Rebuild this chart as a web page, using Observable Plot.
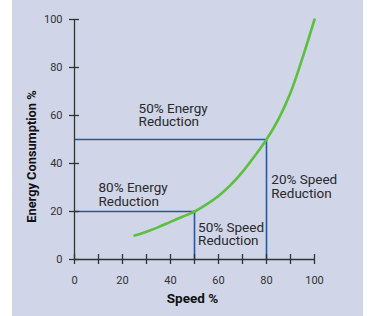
<!DOCTYPE html>
<html><head><meta charset="utf-8">
<script src="https://cdn.jsdelivr.net/npm/d3@7"></script>
<script src="https://cdn.jsdelivr.net/npm/@observablehq/plot@0.6"></script>
<style>
html,body{margin:0;padding:0;background:#fff;}
#wrap{position:relative;width:372px;height:316px;}
#panel{position:absolute;left:12px;top:0;width:351px;height:316px;background:#d0d5e8;}
#chart{position:absolute;left:0;top:0;}
#chart svg{background:transparent;}
</style></head>
<body><div id="wrap"><div id="panel"></div><div id="chart"></div></div>
<script>
const speed =  [25, 30, 35, 40, 45, 50, 55, 60, 65, 70, 75, 80, 85, 90, 95, 100];
const energy = [10, 11.6, 13.5, 15.7, 17.8, 20, 23, 26.5, 31, 36.5, 43, 50, 58.5, 69.5, 84, 100];
const xTicks = [0, 10, 20, 30, 40, 50, 60, 70, 80, 90, 100];
const xLabels = [0, 20, 40, 60, 80, 100];
const yTicks = [0, 20, 40, 60, 80, 100];
const guides = [
  {x1: 0, y1: 50, x2: 80, y2: 50},
  {x1: 80, y1: 0, x2: 80, y2: 50},
  {x1: 0, y1: 20, x2: 50, y2: 20},
  {x1: 50, y1: 0, x2: 50, y2: 20}
];
const notes = [
  {x: 26.7, y: 65.3, text: "50% Energy\nReduction"},
  {x: 10, y: 32.2, text: "80% Energy\nReduction"},
  {x: 51.5, y: 15.7, text: "50% Speed\nReduction"},
  {x: 82, y: 35.6, text: "20% Speed\nReduction"}
];
const curve = speed.map((s, i) => ({s, e: energy[i]}));
const ink = "#333";
const plot = Plot.plot({
  width: 372, height: 316,
  marginLeft: 74, marginRight: 58, marginTop: 19, marginBottom: 57,
  style: {fontFamily: "Roboto, sans-serif", background: "transparent", color: ink},
  x: {domain: [0, 100]},
  y: {domain: [0, 100]},
  marks: [
    Plot.axisX(xLabels, {tickSize: 0, tickPadding: 17, fontSize: 11, label: null}),
    Plot.axisY(yTicks, {tickSize: 0, tickPadding: 12, fontSize: 11, label: null}),
    Plot.link(guides, {x1: "x1", y1: "y1", x2: "x2", y2: "y2", stroke: "#1f5aa6", strokeWidth: 1.6}),
    Plot.ruleY([0], {x1: 0, x2: 100, stroke: ink, strokeWidth: 1.3}),
    Plot.ruleX([0], {y1: 0, y2: 100, stroke: ink, strokeWidth: 1.3}),
    Plot.ruleX(xTicks, {y1: 0, y2: 0, insetTop: -5, insetBottom: -5, stroke: ink, strokeWidth: 1.3}),
    Plot.ruleY(yTicks, {x1: 0, x2: 0, insetLeft: -5, insetRight: -5, stroke: ink, strokeWidth: 1.3}),
    Plot.line(curve, {x: "s", y: "e", curve: "catmull-rom", stroke: "#5cbf3e", strokeWidth: 2.6}),
    Plot.text(notes, {x: "x", y: "y", text: "text", textAnchor: "start", lineAnchor: "top", lineHeight: 1.02, fontSize: 13.5, fill: "#2a2a2a"}),
    Plot.text(["Speed %"], {frameAnchor: "bottom", lineAnchor: "middle", textAnchor: "middle", dx: -2, dy: 39, fontWeight: "bold", fontSize: 13.5, fill: "#111"}),
    Plot.text(["Energy Consumption %"], {frameAnchor: "left", textAnchor: "middle", lineAnchor: "middle", dx: -43, dy: 17, rotate: -90, fontWeight: "bold", fontSize: 12.8, fill: "#111"})
  ]
});
document.getElementById("chart").appendChild(plot);
</script></body></html>
